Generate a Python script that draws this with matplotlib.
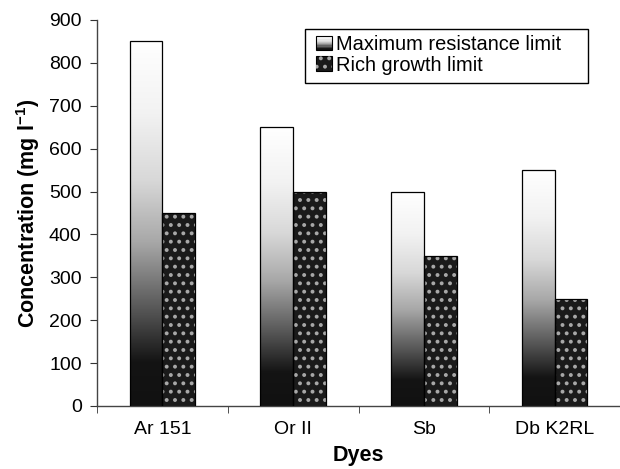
import matplotlib
matplotlib.use("Agg")
import matplotlib.pyplot as plt
import numpy as np
from matplotlib.colors import LinearSegmentedColormap
from matplotlib.patches import Patch, Rectangle
from matplotlib.legend_handler import HandlerBase

categories = ["Ar 151", "Or II", "Sb", "Db K2RL"]
max_resistance = [850, 650, 500, 550]
rich_growth = [450, 500, 350, 250]
series_names = ["Maximum resistance limit", "Rich growth limit"]
yticks = [0, 100, 200, 300, 400, 500, 600, 700, 800, 900]

plt.rcParams['font.family'] = ['Liberation Sans', 'DejaVu Sans']
plt.rcParams['hatch.linewidth'] = 1.6

W, H = 620, 469
fig = plt.figure(figsize=(6.2, 4.69), dpi=100)
ax = fig.add_axes([97/W, 1-406/H, (W-97)/W, (406-20)/H])

x = np.arange(len(categories))
w = 0.25

cmap = LinearSegmentedColormap.from_list("grad", [
    (0.0, "#111111"), (0.12, "#141414"), (0.25, "#505050"), (0.45, "#a8a8a8"),
    (0.62, "#d8d8d8"), (0.8, "#f2f2f2"), (1.0, "#ffffff")])
grad = np.linspace(0, 1, 256).reshape(-1, 1)

bars1 = ax.bar(x - w/2, max_resistance, w, facecolor="none", edgecolor="black", linewidth=0.9, zorder=3)
for b in bars1:
    x0, y0 = b.get_x(), b.get_y()
    im = ax.imshow(grad, cmap=cmap, origin="lower", aspect="auto",
                   extent=[x0, x0 + b.get_width(), y0, y0 + b.get_height()], zorder=2)
    im.set_clip_path(b)

ax.bar(x + w/2, rich_growth, w, facecolor="#1a1a1a", edgecolor="none", zorder=2)
ax.bar(x + w/2, rich_growth, w, facecolor="none", edgecolor="#a8a8a8", hatch="..", linewidth=0, zorder=2.5)
ax.bar(x + w/2, rich_growth, w, facecolor="none", edgecolor="black", linewidth=0.9, zorder=3)

ax.set_xlim(-0.5, len(categories) - 0.5)
ax.set_ylim(0, 900)
ax.set_yticks(yticks)
ax.set_xticks(x)
ax.set_xticklabels(categories, fontsize=14)
ax.tick_params(axis='x', length=0, pad=11)
ax.set_xticks(np.arange(len(categories) + 1) - 0.5, minor=True)
ax.tick_params(axis='x', which='minor', length=5, direction='out', color='#333333')
ax.tick_params(axis='y', labelsize=14, length=5, direction='out', color='#333333', pad=6)
for s in ["top", "right"]:
    ax.spines[s].set_visible(False)
for s in ["left", "bottom"]:
    ax.spines[s].set_color("#444444")
    ax.spines[s].set_linewidth(1.0)

ax.set_xlabel("Dyes", fontsize=15.5, fontweight="bold", labelpad=5)
ax.set_ylabel("Concentration (mg l$^{\\mathregular{-1}}$)", fontsize=15.5, fontweight="bold", labelpad=5)


class GradHandler(HandlerBase):
    def create_artists(self, legend, orig_handle, xdescent, ydescent, width, height, fontsize, trans):
        arts = []
        n = 12
        for i in range(n):
            c = cmap((i + 0.5) / n)
            arts.append(Rectangle((-xdescent, -ydescent + height * i / n), width, height / n,
                                  facecolor=c, edgecolor="none", transform=trans))
        arts.append(Rectangle((-xdescent, -ydescent), width, height, facecolor="none",
                              edgecolor="black", linewidth=0.8, transform=trans))
        return arts


class DotHandler(HandlerBase):
    def create_artists(self, legend, orig_handle, xdescent, ydescent, width, height, fontsize, trans):
        r1 = Rectangle((-xdescent, -ydescent), width, height, facecolor="#1a1a1a",
                       edgecolor="black", linewidth=0.8, transform=trans)
        r2 = Rectangle((-xdescent, -ydescent), width, height, facecolor="none",
                       edgecolor="#a8a8a8", hatch="..", linewidth=0, transform=trans)
        return [r1, r2]


h1 = Patch(facecolor="#888888")
h2 = Patch(facecolor="#1a1a1a")
leg = fig.legend([h1, h2], series_names, loc="upper left",
                 bbox_to_anchor=(316/W, 1-35/H), bbox_transform=fig.transFigure,
                 fontsize=14.4, frameon=False,
                 handlelength=0.8, handleheight=0.75, handletextpad=0.2,
                 borderpad=0, labelspacing=0.08, borderaxespad=0,
                 handler_map={h1: GradHandler(), h2: DotHandler()})

# legend frame box
fig.patches.append(Rectangle((305/W, 1-83/H), (588-305)/W, (83-29)/H,
                             transform=fig.transFigure, facecolor="white",
                             edgecolor="black", linewidth=1.0, zorder=4))
leg.set_zorder(5)

fig.savefig("out.png", dpi=100)
